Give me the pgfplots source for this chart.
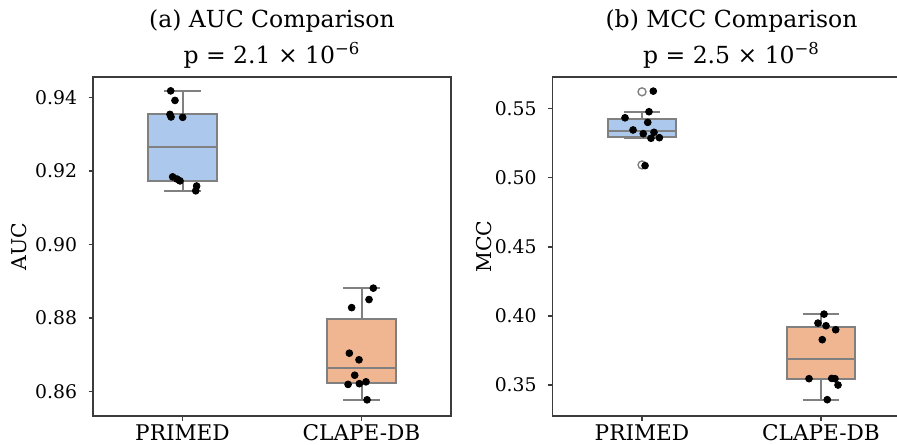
\documentclass[border=0pt]{standalone}
\usepackage{fontspec}
\setmainfont{DejaVu Serif}
\usepackage{pgfplots}
\pgfplotsset{compat=1.18}
\definecolor{boxblue}{RGB}{172,200,236}
\definecolor{boxorange}{RGB}{240,182,145}
\definecolor{boxgray}{RGB}{128,128,128}
\definecolor{axgray}{RGB}{60,60,60}
\pgfplotsset{
  panel/.style={
    scale only axis, width=179pt, height=169.35pt,
    xmin=-0.5, xmax=1.5, xtick={0,1}, xticklabels={PRIMED,CLAPE-DB},
    xtick pos=bottom, ytick pos=left, tick align=outside,
    major tick length=2.25pt,
    every tick/.style={axgray, line width=0.8pt},
    axis line style={axgray, line width=0.8pt},
    /pgf/number format/assume math mode=true,
    /pgf/number format/fixed, /pgf/number format/fixed zerofill, /pgf/number format/precision=2,
    yticklabel style={font=\fontsize{9.4}{10}\selectfont, inner sep=0pt, xshift=-5.5pt},
    xticklabel style={font=\fontsize{10.8}{11}\selectfont, inner sep=0pt, yshift=-2pt},
    ylabel style={font=\fontsize{10.2}{11}\selectfont, anchor=center},
    title style={font=\fontsize{11.75}{18}\selectfont, align=center, anchor=south, at={(axis description cs:0.5,1)}, inner sep=0pt, yshift=-1.85pt},
    clip=false,
  },
  pts/.style={only marks, mark=*, mark size=1.7pt, mark options={fill=black, draw=black}},
  flier/.style={only marks, mark=o, mark size=2pt, mark options={draw=boxgray, line width=0.7pt, fill=white}},
  bx/.style={draw=boxgray, line width=1pt, solid, mark=none},
}
% box: #1 position, #2 lower whisker, #3 Q1, #4 median, #5 Q3, #6 upper whisker, #7 fill
\newcommand\mybox[7]{%
  \addplot[bx] coordinates {(#1,#5) (#1,#6)};
  \addplot[bx] coordinates {(#1,#2) (#1,#3)};
  \addplot[bx] coordinates {(#1-0.1025,#6) (#1+0.1025,#6)};
  \addplot[bx] coordinates {(#1-0.1025,#2) (#1+0.1025,#2)};
  \addplot[bx, fill=#7] coordinates {(#1-0.19,#3) (#1+0.19,#3) (#1+0.19,#5) (#1-0.19,#5)} --cycle;
  \addplot[bx] coordinates {(#1-0.19,#4) (#1+0.19,#4)};
}
\begin{document}
\begin{tikzpicture}
\useasboundingbox (0,0) rectangle (448.5pt,222pt);
\clip (0,0) rectangle (448.5pt,222pt);
\begin{pgfinterruptboundingbox}
% ---------------- (a) AUC ----------------
\begin{axis}[panel, at={(46.5pt,14pt)}, anchor=south west,
  ymin=0.8533, ymax=0.9455, ytick={0.86,0.88,0.90,0.92,0.94},
  ylabel={AUC}, ylabel style={at={(axis description cs:-0.2053,0.5)}},
  title={(a) AUC Comparison\\p = 2.1 × 10\textsuperscript{−6}}]
\mybox{0}{0.9146}{0.9174}{0.9265}{0.9355}{0.9418}{boxblue}
\mybox{1}{0.8577}{0.8624}{0.8665}{0.8798}{0.8881}{boxorange}
\addplot[pts] coordinates {(-0.066,0.9418) (-0.042,0.9392) (-0.070,0.9354) (-0.064,0.9347) (0.001,0.9346) (-0.055,0.9184) (-0.031,0.9178) (-0.014,0.9173) (0.079,0.9159) (0.074,0.9146)};
\addplot[pts] coordinates {(1.066,0.8881) (1.042,0.8850) (0.945,0.8828) (0.932,0.8704) (0.986,0.8686) (0.962,0.8644) (0.925,0.8619) (0.988,0.8621) (1.025,0.8626) (1.031,0.8577)};
\end{axis}
% ---------------- (b) MCC ----------------
\begin{axis}[panel, at={(276.25pt,14pt)}, anchor=south west,
  ymin=0.3276, ymax=0.5726, ytick={0.35,0.40,0.45,0.50,0.55},
  ylabel={MCC}, ylabel style={at={(axis description cs:-0.19,0.5)}},
  title={(b) MCC Comparison\\p = 2.5 × 10\textsuperscript{−8}}]
\mybox{0}{0.5285}{0.5296}{0.5337}{0.5425}{0.5477}{boxblue}
\mybox{1}{0.3394}{0.3546}{0.3688}{0.3922}{0.4013}{boxorange}
\addplot[flier] coordinates {(0,0.5621) (0,0.5092)};
\addplot[pts] coordinates {(0.063,0.5626) (0.039,0.5477) (-0.095,0.5433) (0.032,0.5400) (-0.050,0.5345) (0.007,0.5318) (0.067,0.5328) (0.050,0.5285) (0.097,0.5289) (0.017,0.5087)};
\addplot[pts] coordinates {(1.017,0.4013) (0.983,0.3948) (1.028,0.3929) (1.082,0.3900) (1.007,0.3828) (0.933,0.3546) (1.060,0.3548) (1.078,0.3546) (1.095,0.3500) (1.035,0.3394)};
\end{axis}
\end{pgfinterruptboundingbox}
\end{tikzpicture}
\end{document}
